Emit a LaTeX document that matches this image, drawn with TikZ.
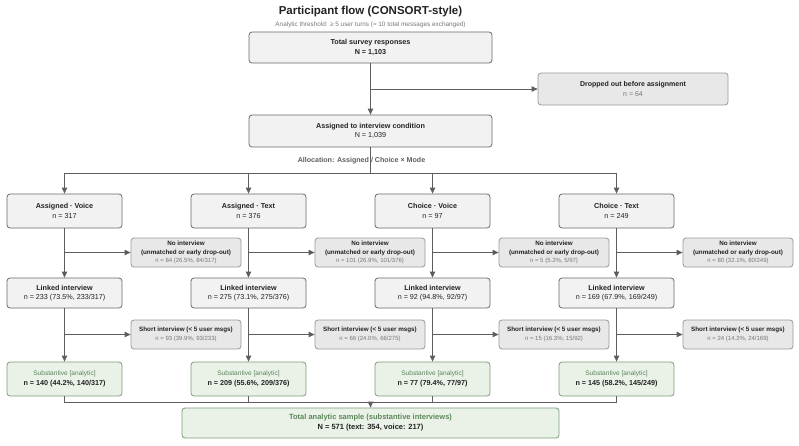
\documentclass[tikz,border=0pt]{standalone}
\usepackage{fontspec}
\setmainfont{Liberation Sans}
\usetikzlibrary{arrows.meta}
\definecolor{lineC}{HTML}{5E5E5E}
\definecolor{mainfill}{HTML}{F2F2F2}
\definecolor{mainborder}{HTML}{6A6A6A}
\definecolor{sidefill}{HTML}{E8E8E8}
\definecolor{sideborder}{HTML}{9A9A9A}
\definecolor{greenfill}{HTML}{EAF2E8}
\definecolor{greenborder}{HTML}{7C9C7A}
\definecolor{greentext}{HTML}{5A865A}
\definecolor{graytext}{HTML}{777777}
\definecolor{darktext}{HTML}{222222}
\begin{document}
\begin{tikzpicture}[x=1pt,y=-1pt,
  base/.style={rounded corners=3pt, line width=0.8pt, align=center, inner sep=0pt, text=darktext},
  mainbox/.style={base, draw=mainborder, fill=mainfill, font=\fontsize{7.2}{9.5}\selectfont},
  sidebox/.style={base, draw=sideborder, fill=sidefill, font=\fontsize{6.3}{8.5}\selectfont},
  greenbox/.style={base, draw=greenborder, fill=greenfill, font=\fontsize{7.2}{9.5}\selectfont},
  armsize/.style={minimum width=115pt, minimum height=34pt},
  linksize/.style={minimum width=115pt, minimum height=30pt},
  smallsize/.style={minimum width=110pt, minimum height=29pt},
  ln/.style={draw=lineC, line width=0.9pt},
  arr/.style={ln, -{Triangle[length=6pt,width=5.5pt]}},
  gr/.style={text=graytext}
]
\useasboundingbox (0,0) rectangle (799,445);

% title
\node[font=\fontsize{11.5}{13}\selectfont\bfseries, text=darktext] (title) at (370.5,12) {Participant flow (CONSORT-style)};
\node[font=\fontsize{6.4}{7}\selectfont, text=graytext] (subtitle) at (370.5,24.5) {Analytic threshold: ≥ 5 user turns (≈ 10 total messages exchanged)};

% top boxes
\node[mainbox, minimum width=243pt, minimum height=31pt] (total) at (370.5,47.5) {\textbf{Total survey responses}\\\textbf{N = 1,103}};
\node[sidebox, font=\fontsize{7}{9.5}\selectfont, minimum width=190pt, minimum height=32pt] (dropped) at (633,89) {\textbf{Dropped out before assignment}\\{\color{graytext}n = 64}};
\node[mainbox, minimum width=243pt, minimum height=32pt] (assigned) at (370.5,131) {\textbf{Assigned to interview condition}\\N = 1,039};

\draw[arr] (total.south) -- (assigned.north);
\draw[arr] (total.south |- dropped.west) -- (dropped.west);

\coordinate (split) at (370.5,173);
\node[font=\fontsize{7.1}{8}\selectfont\bfseries, text=lineC] (alloc) at (361.5,161) {Allocation: Assigned / Choice × Mode};

% columns
\foreach \cx/\nm/\arm/\armn/\ninter/\linkn/\shortn/\subn in {
  64.5/a/{Assigned · Voice}/{n = 317}/{n = 84 (26.5\%, 84/317)}/{n = 233 (73.5\%, 233/317)}/{n = 93 (39.9\%, 93/233)}/{n = 140 (44.2\%, 140/317)},
  248.5/b/{Assigned · Text}/{n = 376}/{n = 101 (26.9\%, 101/376)}/{n = 275 (73.1\%, 275/376)}/{n = 66 (24.0\%, 66/275)}/{n = 209 (55.6\%, 209/376)},
  432.5/c/{Choice · Voice}/{n = 97}/{n = 5 (5.2\%, 5/97)}/{n = 92 (94.8\%, 92/97)}/{n = 15 (16.3\%, 15/92)}/{n = 77 (79.4\%, 77/97)},
  616.5/d/{Choice · Text}/{n = 249}/{n = 80 (32.1\%, 80/249)}/{n = 169 (67.9\%, 169/249)}/{n = 24 (14.2\%, 24/169)}/{n = 145 (58.2\%, 145/249)}}
{
  \node[mainbox, armsize] (arm\nm) at (\cx,211) {\textbf{\arm}\\\armn};
  \node[sidebox, smallsize] (noint\nm) at (\cx+121.5,252.5) {\textbf{No interview}\\\textbf{(unmatched or early drop-out)}\\{\fontsize{6}{8}\selectfont\color{graytext}\ninter}};
  \node[mainbox, linksize] (link\nm) at (\cx,293) {\textbf{Linked interview}\\\linkn};
  \node[sidebox, smallsize] (short\nm) at (\cx+121.5,334.5) {\textbf{Short interview (< 5 user msgs)}\\{\fontsize{6}{8.5}\selectfont\color{graytext}\shortn}};
  \node[greenbox, armsize] (sub\nm) at (\cx,379) {{\fontsize{6.6}{9}\selectfont\color{greentext}Substantive [analytic]}\\\textbf{\subn}};
  \draw[arr] (split -| arm\nm.north) -- (arm\nm.north);
  \draw[arr] (arm\nm.south) -- (link\nm.north);
  \draw[arr] (arm\nm.south |- noint\nm.west) -- (noint\nm.west);
  \draw[arr] (link\nm.south) -- (sub\nm.north);
  \draw[arr] (link\nm.south |- short\nm.west) -- (short\nm.west);
}

\draw[ln] (assigned.south) -- (split);
\draw[ln] (split -| arma.north) -- (split -| armd.north);

% merge
\node[greenbox, font=\fontsize{7.5}{10}\selectfont, minimum width=377pt, minimum height=30pt] (final) at (370.5,423) {{\color{greentext}\textbf{Total analytic sample (substantive interviews)}}\\\textbf{N = 571 (text: 354, voice: 217)}};
\coordinate (merge) at (370.5,402);
\draw[ln] (suba.south) -- (suba.south |- merge) -- (subd.south |- merge) -- (subd.south);
\draw[ln] (subb.south) -- (subb.south |- merge);
\draw[ln] (subc.south) -- (subc.south |- merge);
\draw[arr] (merge) -- (final.north);
\end{tikzpicture}
\end{document}
